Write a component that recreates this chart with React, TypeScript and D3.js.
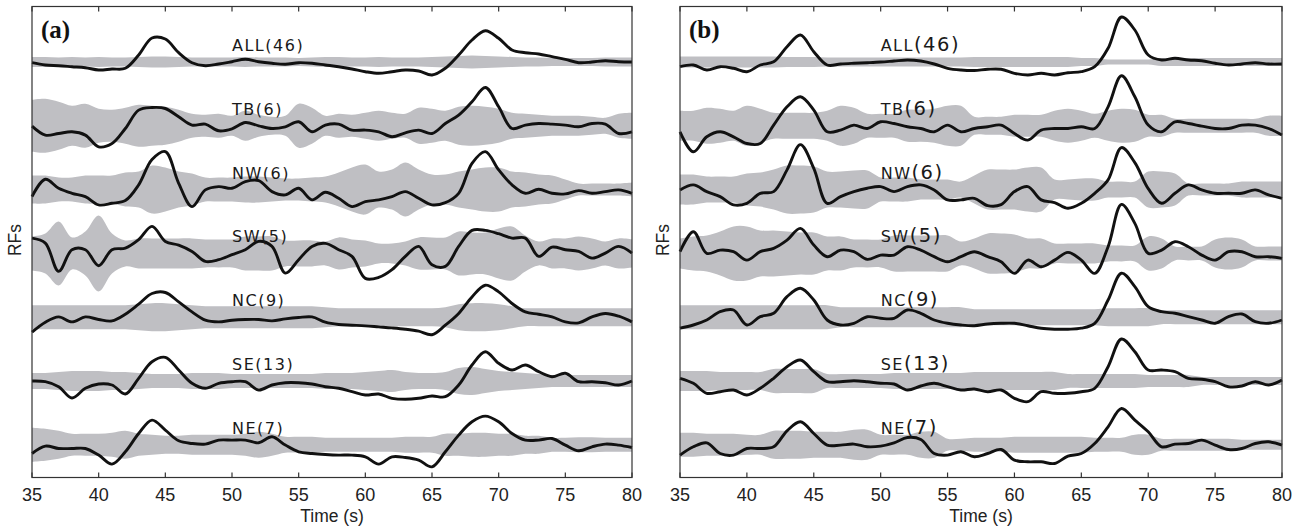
import React from "react";
import * as d3 from "d3";

// sample times (s), one value per second from 35 to 80
const times = d3.range(35, 81);
const stations = ["ALL", "TB", "NW", "SW", "NC", "SE", "NE"];
const counts = [46, 6, 6, 5, 9, 13, 7];

// ---- panel (a): mean RF (black) and spread half-width (grey) ----
const allA = [-0.7,-3,-3.7,-4.7,-5.7,-8,-7,-6.3,7,24, 23,9.3,-0.7,-3.7,-2,0.3,2.7,0.3,-1.3,-2.3, -0.7,-1.3,-3,-4.7,-7,-9.7,-11.3,-9.7,-8,-9, -13,-6.3,7,22,31.3,23.7,12,9.3,8,5.3, 2.7,-0.7,0,1.3,0.3,0];
const allABand = [5,5,4.5,5,4.5,5,4.5,4.5,5,5.5, 5.5,5,4.5,4.5,4.5,4.5,5,4.5,4.5,4.5, 4,4.5,5,5,4.5,4.5,5,4.5,4.5,4.5, 5,5.5,6,6.5,6,5.5,5,4.5,4.5,4, 4,4,4,4.5,4.5,4.5];
const tbA = [-0.3,-9.3,-7.7,-6,-9.3,-21,-17.7,-2.7,15.7,18.3, 17.3,9,0.7,1.7,-5,-3,3.3,0,-2.7,-1, 4,-6,0.7,1.7,-4.3,-4.3,-6,-11,-7,-4.3, -7.7,2.3,10.7,24,38.3,19,-2.7,0.7,2.3,1.7, 0.7,-1,2.3,1.7,-7.7,-6];
const tbABand = [26,27,24,20,22,17,16,18,21,20, 19,16,12,11,12,10,15,11,9,10, 22,18,10,12,11,13,15,13,12,18, 17,15,19,20,19,17,13,12,11,10, 10,10,9,8,12,13];
const nwA = [-7,10.3,1.3,-3.7,-7,-15.3,-13.7,-11,4.7,30, 38,6.3,-17,-0.3,3,1.3,8,9,-2,-5.3, 1.3,-10.3,-2.7,-8.7,-17,-12,-10.3,-7,-2,-8.7, -15.3,-13,-3.7,26.3,38,19.7,4.7,-3.7,0.3,-3.7, -4.3,-1,-3.7,-2,-0.3,-3.7];
const nwABand = [14,14,12,12,14,14,14,17,18,24, 22,18,16,12,12,12,13,13,12,11, 11,12,13,17,22,25,18,20,27,20, 15,15,18,20,22,22,18,17,15,14, 10,6,6,6,6,7];
const swA = [15.3,10.3,-18,3.7,3.7,-12.3,3.7,5.3,13.7,27, 12,8.3,2,-8,-6.3,-1.3,3.7,12,7,-19.7, -6.3,7,10,3.7,-3,-25,-24,-16.3,-3,7, -11.3,-13,7,23,23,19.7,15.3,15.3,-3,6.3, 3.7,2,-4.7,0.3,7,0.3];
const swABand = [17,20,32,16,22,38,20,13,15,15, 15,15,15,14,14,14,17,17,17,13, 13,13,12,16,14,13,10,10,12,16, 16,16,22,21,21,25,27,18,12,15, 15,17,15,12,15,14];
const ncA = [-15,-5,0.3,-4.7,0.3,-2.3,-3.7,3,13,23.7, 24.7,15.3,5.3,-3,-4.7,-3,-2.3,-2.3,-3.7,-1.7, -0.3,0.3,-5,-7.3,-8,-8.7,-9.7,-10.7,-12,-14, -17.5,-8,3.7,20.3,32,25.3,13.7,5.3,3,0.3, -4.7,-5.7,0.3,3.7,1,-4.7];
const ncABand = [12,12,12,12,12,12,12,12,13,14, 14,13,12,11,11,11,11,11,11,11, 11,11,10,9,9,9,9,9,9,9, 9,10,13,14,14,13,11,9,9,9, 9,9,9,9,9,9];
const seA = [0,-0.7,-5.7,-17,-7.3,-3,-4,-13,2.7,19.3, 23.7,11,-2.3,-7.3,-2.3,-0.7,-0.7,-9,-4,-1.7, -1.7,-3,-5.7,-7.3,-10.7,-14,-13,-17.3,-18.3,-17.3, -15,-15.7,-4,16,29.3,17.7,11,16,9.3,4.3, 7.7,-0.7,-0.7,-1.7,-4,0];
const seABand = [8,8,9,10,10,10,9,9,8,7, 7,7,8,8,8,7,7,7,7,7, 7,7,8,8,8,9,10,11,9,8, 8,9,13,14,12,10,9,8,7,6, 6,6,6,6,6,6];
const neA = [-8.7,-1.3,-3.7,-3.7,-3.7,-10.3,-19.3,-7,11.3,24.7, 14.7,4,1.3,0.7,4.7,4.7,4.7,2,8,-0.3, -7,-8.7,-9.7,-10.3,-10.3,-12,-19.3,-12,-12.7,-15.3, -22,-7,9.7,23,28.7,23,11.3,4.7,4.7,6.3, -0.3,-6,-2,0.7,-0.3,-2.7];
const neABand = [17,16,14,11,11,11,12,14,11,10, 9,9,10,10,10,10,11,13,11,8, 8,8,7,7,7,7,7,7,8,8, 8,11,11,12,12,11,11,9,9,7, 7,7.5,7.5,7,7,7];

// ---- panel (b) ----
const allB = [-4.7,-3,-8,-4.7,-6.3,-9.7,-3,0.3,15.3,27, 10.3,-3,-2,-1.3,-0.7,0,1,2,1,-2, -6.3,-8,-8.5,-7.3,-7.3,-11.3,-13,-11.3,-13,-10.7, -9.7,-4.7,13.7,45,32,7,2,3.7,2,1.3, -1.3,-3,-2,-0.7,-2,-2];
const allBBand = [5.5,5.5,5.5,5.5,5.5,5.5,5.5,5.5,5,5, 5,4.5,4.5,4.5,4.5,4.5,4.5,4.5,4.5,4.5, 4.5,4.5,5,5,5,5,5,5,5,5, 4,4,2.5,2.5,2.5,2.5,4,4,4,4, 4,4,4,4,4,4];
const tbB = [-6,-26,-11,-6,-11,-17.7,-17.7,0.7,19,29, 15.7,-6,-4.3,0.7,-2.7,4,2.3,-1,-2.7,-6, 0.7,-6,-2.7,-1,0.7,-7.7,-14.3,-4.3,-2.7,-2.7, -1,-2.7,19,50,29,0.7,-6,4,2.3,-0.3, -2.7,-2.7,0.7,0.7,-2.7,-9.3];
const tbBBand = [15,15,18,17,15,20,17,13,13,13, 13,15,20,18,12,12,12,16,16,17, 20,20,9,9,9,11,11,11,15,17, 15,12,15,17,16,11,11,7,7,7, 7,7,7,7,10,10];
const nwB = [-0.3,4.7,-2,-7,-15.3,-13.7,-3.7,-2,19.7,45, 21.3,-13.7,-7,-2,1.3,3,-2,3,4.7,-0.3, -10.3,-10.3,-8.7,-16,-15,-2,3,-10.3,-13,-18.7, -13.7,-3.7,9.7,42,27,1,-13.7,-3.7,4.7,-0.3, -3.7,-3.7,-3.7,-0.3,-5.3,-8.7];
const nwBBand = [15,15,13,13,13,16,17,20,24,24, 23,18,18,19,19,12,12,12,10,10, 10,8,14,20,20,20,22,22,10,10, 11,11,8,8,8,18,18,16,6,6, 6,6,8,8,8,8];
const swB = [1.7,21.7,0,3.3,1.7,-6.7,1.7,5,13.3,25, 8.3,-3.3,3.3,1.7,-6,-1.7,-1.7,6.7,3.3,-3.3, -8.3,-3.3,1.7,-3.3,-8.3,-20,-6.7,-13.3,-6.7,1, -6.7,-20,6.7,49,30,0,3.3,11.7,6.7,-1.7, -6.7,1.7,1.7,-3.3,-3.3,-5];
const swBBand = [15,17,18,22,27,27,23,23,22,21, 21,17,17,14,14,14,18,18,18,18, 18,12,15,20,20,19,15,15,10,10, 10,10,8,8,8,17,15,7,7,7, 14,16,14,7,7,7];
const ncB = [-11,-7.8,-2.8,5.5,7.2,-7.8,0.5,3.9,20.5,28.9, 17.2,-2.8,-7.8,-6.1,0.5,-1.1,-1.1,7.2,3.9,-2.8, -6.1,-7.8,-8.5,-6.8,-6.1,-6.1,-8.5,-11.1,-12,-12, -11,-6.1,17.2,44,30.5,10.5,5.5,3.9,0.5,-2.8, -6.1,0.5,3.2,-4.5,-6.1,-2.8];
const ncBBand = [12,12,12,12,12,12,12,12,12,12, 12,12,10,10,10,10,10,10,10,10, 10,10,8,8,8,8,8,8,8,8, 8,8,9,9,9,9,7,7,7,7, 7,7,7,7,7,7];
const seB = [2.7,-2.3,-12.3,-10.7,-9,-14,-7.3,2.7,14.3,21, 9.3,-0.7,-0.7,0.3,-0.7,-2.3,-3,-9,-5,-2.3, -5.7,-9,-8,-10.7,-9,-17.3,-20.7,-10.7,-12.3,-12.3, -10.7,-7.3,14.3,42,29.3,11,11,9.3,2.7,1.7, -0.7,-5.7,-5,-0.7,-4,1];
const seBBand = [10,10,10,9,9,9,9,12,12,12, 12,7,7,7,7,7,8,8,8,8, 8,8,9,9,9,9,9,9,9,7, 7,7,7,7,7,6,6,6,6,4, 4,4,4,4,4,4];
const neB = [-10.3,-2,2,-8.7,-10.3,-3.7,-3.7,-2,14,23, 11.3,-0.3,-0.3,0.7,-2,-1.3,2,7.3,5.3,-8.7, -10.3,-7,-12,-8.7,-4.7,-15.3,-17,-17,-18.7,-11.3, -8.7,1.3,18,36.3,24.7,13,-2,0.7,1.3,4.7, -0.3,-4.7,-3.7,1.3,3,-0.3];
const neBBand = [12,12,11,11,11,10,10,14,14,14, 13,13,13,15,15,10,10,10,13,13, 6,6,7,7,7,8,8,8,8,8, 8,7,7,7,10,10,6,6,6,6, 6,6,5,5,5,5];

const tracesA = [allA, tbA, nwA, swA, ncA, seA, neA];
const bandsA = [allABand, tbABand, nwABand, swABand, ncABand, seABand, neABand];
const tracesB = [allB, tbB, nwB, swB, ncB, seB, neB];
const bandsB = [allBBand, tbBBand, nwBBand, swBBand, ncBBand, seBBand, neBBand];

const width = 1313;
const height = 528;
const top = 6.5;
const bottom = 477.5;

const base = d3.scalePoint<string>().domain(stations).range([62, 444.8]);
const amp = d3.scaleLinear().domain([0, 10]).range([0, -10]);

function Panel({ x0, x1, tag, traces, bands, bigCount }) {
  const x = d3.scaleLinear().domain([35, 80]).range([x0, x1]);
  const ticks = x.ticks(10);
  const mid = (x0 + x1) / 2;

  return (
    <g>
      {stations.map((st, i) => {
        const y0 = base(st);
        const area = d3
          .area<number>()
          .x((_, j) => x(times[j]))
          .y0((d) => y0 - amp(d))
          .y1((d) => y0 + amp(d))
          .curve(d3.curveCatmullRom);
        return <path key={"b" + st} d={area(bands[i])} fill="#bfbfc3" />;
      })}
      {stations.map((st, i) => {
        const y0 = base(st);
        const ln = d3
          .line<number>()
          .x((_, j) => x(times[j]))
          .y((d) => y0 + amp(d))
          .curve(d3.curveCatmullRom);
        return (
          <path
            key={"l" + st}
            d={ln(traces[i])}
            fill="none"
            stroke="#111"
            strokeWidth={2.9}
            strokeLinejoin="round"
          />
        );
      })}
      {stations.map((st, i) => (
        <text
          key={"t" + st}
          x={x(50)}
          y={base(st) - 11}
          fontFamily="DejaVu Sans, sans-serif"
          fontSize={16}
          letterSpacing={1.5}
          fill="#1a1a1a"
        >
          {st}
          <tspan fontSize={bigCount ? 19.5 : 16}>({counts[i]})</tspan>
        </text>
      ))}

      <rect x={x0} y={top} width={x1 - x0} height={bottom - top} fill="none" stroke="#333" strokeWidth={1.2} />
      {ticks.map((t) => (
        <g key={"k" + t}>
          <line x1={x(t)} x2={x(t)} y1={bottom} y2={bottom - 5} stroke="#333" strokeWidth={1.2} />
          <line x1={x(t)} x2={x(t)} y1={top} y2={top + 5} stroke="#333" strokeWidth={1.2} />
          <text
            x={x(t)}
            y={501}
            textAnchor="middle"
            fontFamily="Liberation Sans, Arial, sans-serif"
            fontSize={18}
            fill="#222"
          >
            {t}
          </text>
        </g>
      ))}
      <text
        x={mid}
        y={522}
        textAnchor="middle"
        fontFamily="Liberation Sans, Arial, sans-serif"
        fontSize={17.5}
        fill="#222"
      >
        Time (s)
      </text>
      <text
        transform={`translate(${x0 - 11},240) rotate(-90)`}
        textAnchor="middle"
        fontFamily="Liberation Sans, Arial, sans-serif"
        fontSize={17.5}
        fill="#222"
      >
        RFs
      </text>
      <text
        x={x0 + 9}
        y={38}
        fontFamily="Liberation Serif, Times New Roman, serif"
        fontWeight="bold"
        fontSize={25}
        fill="#111"
      >
        {tag}
      </text>
    </g>
  );
}

export default function App() {
  return (
    <svg
      width={width}
      height={height}
      style={{ position: "absolute", left: 0, top: 0, background: "#fff" }}
    >
      <Panel x0={32} x1={632} tag="(a)" traces={tracesA} bands={bandsA} bigCount={false} />
      <Panel x0={680} x1={1282} tag="(b)" traces={tracesB} bands={bandsB} bigCount={true} />
    </svg>
  );
}
